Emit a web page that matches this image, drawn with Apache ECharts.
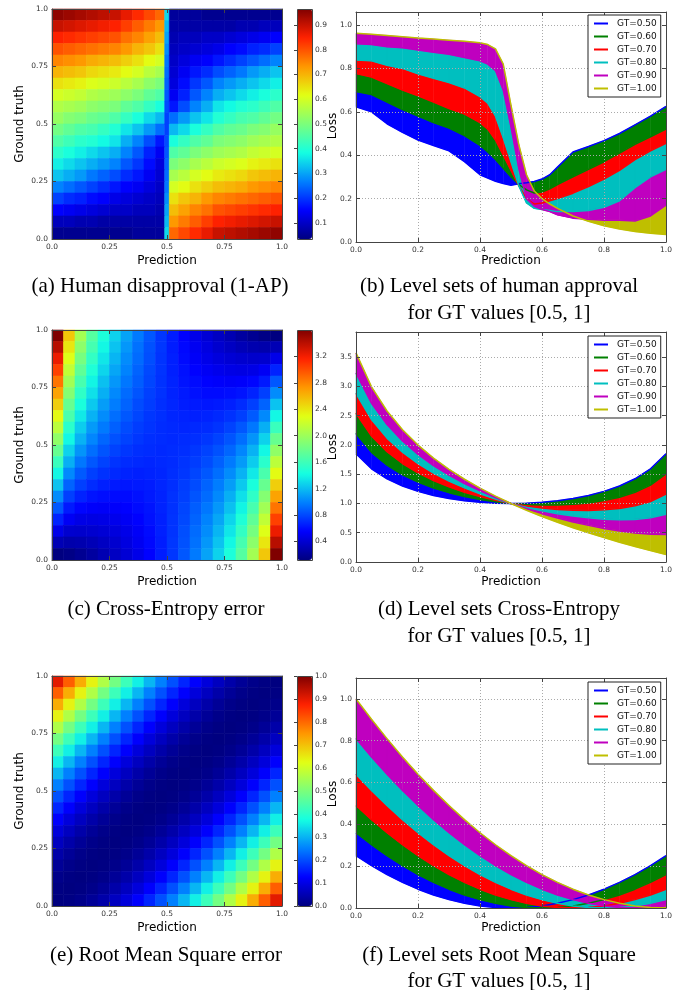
<!DOCTYPE html>
<html>
<head>
<meta charset="utf-8">
<script src="https://cdn.jsdelivr.net/npm/echarts@6.0.0/dist/echarts.min.js"></script>
<style>
html, body { margin: 0; padding: 0; background: #fff; }
#chart { width: 679px; height: 990px; }
</style>
</head>
<body>
<div id="chart"></div>
<script>
// heatmap cells: rows are listed from the top (GT near 1) down to the bottom (GT near 0)
var cellEdges = [0, 0.05, 0.1, 0.15, 0.2, 0.25, 0.3, 0.35, 0.4, 0.45, 0.5, 0.55, 0.6, 0.65, 0.7, 0.75, 0.8, 0.85, 0.9, 0.95, 1];
// the 1-AP map has a narrow column on the jump at prediction 0.5
var apColEdges = [0, 0.05, 0.1, 0.15, 0.2, 0.25, 0.3, 0.35, 0.4, 0.45, 0.49, 0.51, 0.55, 0.6, 0.65, 0.7, 0.75, 0.8, 0.85, 0.9, 0.95, 1];

var apRows = [
  [.95,.94,.93,.92,.91,.90,.87,.84,.81,.78,.35,.06,.06,.06,.05,.05,.05,.05,.05,.05,.05],
  [.90,.89,.88,.87,.86,.85,.82,.79,.76,.73,.32,.07,.07,.07,.07,.07,.07,.08,.08,.09,.09],
  [.85,.84,.83,.82,.81,.80,.77,.75,.72,.69,.30,.08,.09,.09,.10,.10,.11,.12,.13,.14,.15],
  [.80,.79,.78,.77,.76,.75,.73,.70,.68,.65,.28,.09,.10,.11,.12,.13,.15,.16,.18,.19,.21],
  [.75,.74,.73,.71,.70,.69,.67,.65,.62,.60,.26,.10,.12,.14,.15,.17,.19,.21,.23,.25,.27],
  [.70,.69,.68,.66,.65,.64,.62,.60,.57,.55,.25,.11,.14,.17,.19,.22,.24,.26,.29,.31,.33],
  [.65,.64,.63,.61,.60,.59,.57,.55,.52,.50,.24,.12,.16,.20,.23,.27,.29,.31,.33,.35,.37],
  [.60,.59,.58,.56,.55,.54,.52,.50,.47,.45,.23,.14,.18,.23,.27,.31,.33,.35,.37,.39,.41],
  [.56,.55,.54,.52,.51,.50,.47,.45,.42,.39,.22,.17,.22,.27,.31,.36,.38,.40,.41,.43,.45],
  [.53,.51,.50,.48,.47,.45,.42,.39,.35,.32,.21,.25,.29,.33,.36,.40,.42,.44,.45,.47,.49],
  [.49,.47,.45,.44,.42,.40,.36,.33,.29,.25,.21,.32,.35,.39,.42,.45,.47,.48,.50,.51,.53],
  [.45,.43,.41,.40,.38,.36,.31,.27,.22,.17,.22,.39,.42,.45,.47,.50,.51,.52,.54,.55,.56],
  [.41,.39,.37,.35,.33,.31,.27,.23,.18,.14,.23,.45,.47,.50,.52,.54,.55,.56,.58,.59,.60],
  [.37,.35,.33,.31,.29,.27,.23,.20,.16,.12,.24,.50,.52,.55,.57,.59,.60,.61,.63,.64,.65],
  [.33,.31,.29,.26,.24,.22,.19,.17,.14,.11,.25,.55,.57,.60,.62,.64,.65,.66,.68,.69,.70],
  [.27,.25,.23,.21,.19,.17,.15,.14,.12,.10,.26,.60,.62,.65,.67,.69,.70,.71,.73,.74,.75],
  [.21,.19,.18,.16,.15,.13,.12,.11,.10,.09,.28,.65,.68,.70,.73,.75,.76,.77,.78,.79,.80],
  [.15,.14,.13,.12,.11,.10,.10,.09,.09,.08,.30,.69,.72,.75,.77,.80,.81,.82,.83,.84,.85],
  [.09,.09,.08,.08,.07,.07,.07,.07,.07,.07,.32,.73,.76,.79,.82,.85,.86,.87,.88,.89,.90],
  [.05,.05,.05,.05,.05,.05,.05,.06,.06,.06,.35,.78,.81,.84,.87,.90,.91,.92,.93,.94,.95]
];

var ceRows = [
  [3.60,2.53,2.03,1.70,1.46,1.27,1.11,0.97,0.85,0.74,0.65,0.56,0.48,0.41,0.35,0.29,0.23,0.18,0.14,0.12],
  [3.41,2.40,1.93,1.63,1.40,1.22,1.07,0.94,0.83,0.74,0.65,0.58,0.51,0.45,0.39,0.35,0.31,0.28,0.27,0.30],
  [3.23,2.28,1.84,1.55,1.34,1.17,1.03,0.92,0.82,0.73,0.66,0.59,0.53,0.48,0.44,0.41,0.39,0.38,0.39,0.48],
  [3.05,2.15,1.74,1.47,1.28,1.12,1.00,0.89,0.80,0.73,0.66,0.61,0.56,0.52,0.49,0.47,0.46,0.47,0.52,0.67],
  [2.86,2.02,1.64,1.39,1.21,1.07,0.96,0.87,0.79,0.72,0.67,0.62,0.59,0.56,0.54,0.53,0.54,0.57,0.64,0.85],
  [2.68,1.90,1.54,1.32,1.15,1.02,0.92,0.84,0.77,0.72,0.67,0.64,0.61,0.59,0.59,0.60,0.62,0.67,0.77,1.03],
  [2.50,1.77,1.45,1.24,1.09,0.98,0.89,0.81,0.76,0.71,0.68,0.65,0.64,0.63,0.64,0.66,0.70,0.77,0.89,1.22],
  [2.31,1.65,1.35,1.16,1.03,0.93,0.85,0.79,0.74,0.71,0.68,0.67,0.66,0.67,0.69,0.72,0.77,0.86,1.02,1.40],
  [2.13,1.52,1.25,1.08,0.97,0.88,0.81,0.76,0.73,0.70,0.69,0.68,0.69,0.70,0.73,0.78,0.85,0.96,1.15,1.58],
  [1.95,1.40,1.16,1.01,0.90,0.83,0.78,0.74,0.71,0.70,0.69,0.70,0.71,0.74,0.78,0.84,0.93,1.06,1.27,1.77],
  [1.77,1.27,1.06,0.93,0.84,0.78,0.74,0.71,0.70,0.69,0.70,0.71,0.74,0.78,0.83,0.90,1.01,1.16,1.40,1.95],
  [1.58,1.15,0.96,0.85,0.78,0.73,0.70,0.69,0.68,0.69,0.70,0.73,0.76,0.81,0.88,0.97,1.08,1.25,1.52,2.13],
  [1.40,1.02,0.86,0.77,0.72,0.69,0.67,0.66,0.67,0.68,0.71,0.74,0.79,0.85,0.93,1.03,1.16,1.35,1.65,2.31],
  [1.22,0.89,0.77,0.70,0.66,0.64,0.63,0.64,0.65,0.68,0.71,0.76,0.81,0.89,0.98,1.09,1.24,1.45,1.77,2.50],
  [1.03,0.77,0.67,0.62,0.60,0.59,0.59,0.61,0.64,0.67,0.72,0.77,0.84,0.92,1.02,1.15,1.32,1.54,1.90,2.68],
  [0.85,0.64,0.57,0.54,0.53,0.54,0.56,0.59,0.62,0.67,0.72,0.79,0.87,0.96,1.07,1.21,1.39,1.64,2.02,2.86],
  [0.67,0.52,0.47,0.46,0.47,0.49,0.52,0.56,0.61,0.66,0.73,0.80,0.89,1.00,1.12,1.28,1.47,1.74,2.15,3.05],
  [0.48,0.39,0.38,0.39,0.41,0.44,0.48,0.53,0.59,0.66,0.73,0.82,0.92,1.03,1.17,1.34,1.55,1.84,2.28,3.23],
  [0.30,0.27,0.28,0.31,0.35,0.39,0.45,0.51,0.58,0.65,0.74,0.83,0.94,1.07,1.22,1.40,1.63,1.93,2.40,3.41],
  [0.12,0.14,0.18,0.23,0.29,0.35,0.41,0.48,0.56,0.65,0.74,0.85,0.97,1.11,1.27,1.46,1.70,2.03,2.53,3.60]
];

var mseRows = [
  [.903,.81,.723,.64,.563,.49,.423,.36,.303,.25,.203,.16,.123,.09,.063,.04,.023,.01,.003,0],
  [.81,.723,.64,.563,.49,.423,.36,.303,.25,.203,.16,.123,.09,.063,.04,.023,.01,.003,0,.003],
  [.723,.64,.563,.49,.423,.36,.303,.25,.203,.16,.123,.09,.063,.04,.023,.01,.003,0,.003,.01],
  [.64,.563,.49,.423,.36,.303,.25,.203,.16,.123,.09,.063,.04,.023,.01,.003,0,.003,.01,.023],
  [.563,.49,.423,.36,.303,.25,.203,.16,.123,.09,.063,.04,.023,.01,.003,0,.003,.01,.023,.04],
  [.49,.423,.36,.303,.25,.203,.16,.123,.09,.063,.04,.023,.01,.003,0,.003,.01,.023,.04,.063],
  [.423,.36,.303,.25,.203,.16,.123,.09,.063,.04,.023,.01,.003,0,.003,.01,.023,.04,.063,.09],
  [.36,.303,.25,.203,.16,.123,.09,.063,.04,.023,.01,.003,0,.003,.01,.023,.04,.063,.09,.123],
  [.303,.25,.203,.16,.123,.09,.063,.04,.023,.01,.003,0,.003,.01,.023,.04,.063,.09,.123,.16],
  [.25,.203,.16,.123,.09,.063,.04,.023,.01,.003,0,.003,.01,.023,.04,.063,.09,.123,.16,.203],
  [.203,.16,.123,.09,.063,.04,.023,.01,.003,0,.003,.01,.023,.04,.063,.09,.123,.16,.203,.25],
  [.16,.123,.09,.063,.04,.023,.01,.003,0,.003,.01,.023,.04,.063,.09,.123,.16,.203,.25,.303],
  [.123,.09,.063,.04,.023,.01,.003,0,.003,.01,.023,.04,.063,.09,.123,.16,.203,.25,.303,.36],
  [.09,.063,.04,.023,.01,.003,0,.003,.01,.023,.04,.063,.09,.123,.16,.203,.25,.303,.36,.423],
  [.063,.04,.023,.01,.003,0,.003,.01,.023,.04,.063,.09,.123,.16,.203,.25,.303,.36,.423,.49],
  [.04,.023,.01,.003,0,.003,.01,.023,.04,.063,.09,.123,.16,.203,.25,.303,.36,.423,.49,.563],
  [.023,.01,.003,0,.003,.01,.023,.04,.063,.09,.123,.16,.203,.25,.303,.36,.423,.49,.563,.64],
  [.01,.003,0,.003,.01,.023,.04,.063,.09,.123,.16,.203,.25,.303,.36,.423,.49,.563,.64,.723],
  [.003,0,.003,.01,.023,.04,.063,.09,.123,.16,.203,.25,.303,.36,.423,.49,.563,.64,.723,.81],
  [0,.003,.01,.023,.04,.063,.09,.123,.16,.203,.25,.303,.36,.423,.49,.563,.64,.723,.81,.903]
];

// colorbar tick labels
var apBarTicks = [0.1, 0.2, 0.3, 0.4, 0.5, 0.6, 0.7, 0.8, 0.9];
var ceBarTicks = [0.4, 0.8, 1.2, 1.6, 2.0, 2.4, 2.8, 3.2];
var mseBarTicks = [0, 0.1, 0.2, 0.3, 0.4, 0.5, 0.6, 0.7, 0.8, 0.9, 1.0];

var gtNames = ['GT=0.50', 'GT=0.60', 'GT=0.70', 'GT=0.80', 'GT=0.90', 'GT=1.00'];

// (b) level sets of human approval
var apX = [0, 0.05, 0.1, 0.15, 0.2, 0.25, 0.3, 0.35, 0.4, 0.425, 0.45, 0.475, 0.5, 0.525, 0.55, 0.575, 0.6, 0.625, 0.65, 0.7, 0.75, 0.8, 0.85, 0.9, 0.95, 1];
var apGT50 = [.623,.60,.545,.505,.47,.445,.42,.37,.31,.295,.28,.27,.262,.268,.273,.279,.29,.31,.345,.415,.44,.467,.50,.54,.58,.625];
var apGT60 = [.694,.68,.645,.61,.58,.55,.525,.49,.445,.415,.38,.34,.30,.265,.24,.226,.23,.245,.265,.30,.335,.37,.41,.45,.485,.52];
var apGT70 = [.776,.76,.73,.70,.674,.645,.615,.59,.55,.52,.47,.40,.33,.26,.20,.175,.18,.19,.20,.225,.255,.29,.33,.38,.42,.455];
var apGT80 = [.839,.835,.815,.80,.775,.755,.735,.71,.67,.64,.58,.48,.37,.26,.18,.155,.15,.145,.14,.14,.145,.16,.19,.25,.30,.335];
var apGT90 = [.914,.91,.90,.895,.885,.875,.865,.85,.835,.82,.79,.70,.53,.34,.20,.165,.15,.14,.125,.11,.105,.10,.10,.097,.12,.17];
var apGT100 = [.962,.957,.952,.946,.94,.935,.93,.925,.918,.91,.89,.82,.63,.45,.31,.235,.20,.175,.155,.12,.095,.075,.06,.048,.04,.035];

// (d) level sets of cross-entropy
var ceX = [0, 0.05, 0.1, 0.15, 0.2, 0.25, 0.3, 0.35, 0.4, 0.45, 0.5, 0.55, 0.6, 0.65, 0.7, 0.75, 0.8, 0.85, 0.9, 0.95, 1];
var ceGT50 = [1.850,1.593,1.422,1.299,1.207,1.137,1.085,1.046,1.020,1.005,1.0,1.005,1.020,1.046,1.085,1.137,1.207,1.299,1.422,1.593,1.850];
var ceGT60 = [2.194,1.873,1.654,1.491,1.365,1.265,1.185,1.120,1.069,1.029,1.0,0.981,0.972,0.973,0.985,1.009,1.049,1.107,1.190,1.314,1.505];
var ceGT70 = [2.539,2.153,1.885,1.683,1.523,1.393,1.284,1.193,1.118,1.053,1.0,0.957,0.923,0.899,0.885,0.881,0.891,0.915,0.959,1.034,1.161];
var ceGT80 = [2.883,2.433,2.117,1.876,1.681,1.521,1.384,1.267,1.166,1.077,1.0,0.933,0.875,0.826,0.785,0.754,0.732,0.722,0.727,0.754,0.816];
var ceGT90 = [3.228,2.713,2.348,2.068,1.840,1.648,1.484,1.340,1.215,1.101,1.0,0.909,0.826,0.752,0.685,0.626,0.574,0.530,0.496,0.474,0.472];
var ceGT100 = [3.573,2.993,2.580,2.260,1.998,1.776,1.584,1.414,1.263,1.125,1.0,0.885,0.778,0.679,0.586,0.498,0.416,0.338,0.264,0.194,0.127];

// (f) level sets of the squared error
var mseX = [0, 0.05, 0.1, 0.15, 0.2, 0.25, 0.3, 0.35, 0.4, 0.45, 0.5, 0.55, 0.6, 0.65, 0.7, 0.75, 0.8, 0.85, 0.9, 0.95, 1];
var mseGT50 = [.25,.2025,.16,.1225,.09,.0625,.04,.0225,.01,.0025,0,.0025,.01,.0225,.04,.0625,.09,.1225,.16,.2025,.25];
var mseGT60 = [.36,.3025,.25,.2025,.16,.1225,.09,.0625,.04,.0225,.01,.0025,0,.0025,.01,.0225,.04,.0625,.09,.1225,.16];
var mseGT70 = [.49,.4225,.36,.3025,.25,.2025,.16,.1225,.09,.0625,.04,.0225,.01,.0025,0,.0025,.01,.0225,.04,.0625,.09];
var mseGT80 = [.64,.5625,.49,.4225,.36,.3025,.25,.2025,.16,.1225,.09,.0625,.04,.0225,.01,.0025,0,.0025,.01,.0225,.04];
var mseGT90 = [.81,.7225,.64,.5625,.49,.4225,.36,.3025,.25,.2025,.16,.1225,.09,.0625,.04,.0225,.01,.0025,0,.0025,.01];
var mseGT100 = [1,.9025,.81,.7225,.64,.5625,.49,.4225,.36,.3025,.25,.2025,.16,.1225,.09,.0625,.04,.0225,.01,.0025,0];

var FONT = 'DejaVu Sans';
var SERIF = 'Liberation Serif';
var jet = ['#000080', '#0000ff', '#0080ff', '#14ffe2', '#7bff7b', '#e2ff14', '#ff9700', '#ff2100', '#800000'];
var lineColors = ['#0000ff', '#008000', '#ff0000', '#00bfbf', '#bf00bf', '#bfbf00'];

var option = {
    animation: false,
    backgroundColor: '#fff',
    textStyle: { fontFamily: FONT },
    grid: [], xAxis: [], yAxis: [], series: [], visualMap: [], legend: [],
    graphic: { elements: [] }
};

function heatFmt(v) { return (v === 0 || v === 1) ? v.toFixed(1) : String(v); }
function oneDec(v) { return v.toFixed(1); }

function axis(gi, pos, r, labels, dotted) {
    return {
        type: 'value', gridIndex: gi, position: pos,
        min: r.min, max: r.max, interval: r.interval, z: 10,
        axisLine: { show: true, onZero: false, lineStyle: { color: '#444', width: 1 } },
        axisTick: { show: true, inside: true, length: 4, lineStyle: { color: '#444', width: 1 } },
        axisLabel: {
            show: labels, fontSize: 7.5, color: '#333', margin: 4, fontFamily: FONT,
            formatter: r.fmt, showMaxLabel: r.hideMax ? false : null
        },
        splitLine: { show: !!dotted, lineStyle: { color: '#aaa', width: 1, type: [1, 2] } }
    };
}

// a grid with a box of four axes, labels on bottom and left only
function addFrame(box, xr, yr, dotted) {
    var gi = option.grid.length;
    option.grid.push(box);
    var xi = option.xAxis.length, yi = option.yAxis.length;
    option.xAxis.push(axis(gi, 'bottom', xr, true, dotted), axis(gi, 'top', xr, false, false));
    option.yAxis.push(axis(gi, 'left', yr, true, dotted), axis(gi, 'right', yr, false, false));
    return { x: xi, y: yi };
}

function cellData(rows) {
    var data = [];
    rows.forEach(function (row, r) {
        row.forEach(function (v, c) { data.push([c, rows.length - 1 - r, v]); });
    });
    return data;
}

function cellRenderer(colEdges) {
    return function (params, api) {
        var c = api.value(0), j = api.value(1);
        var p1 = api.coord([colEdges[c], cellEdges[j + 1]]);
        var p2 = api.coord([colEdges[c + 1], cellEdges[j]]);
        var color = api.visual('color');
        return {
            type: 'rect',
            shape: { x: p1[0], y: p1[1], width: p2[0] - p1[0], height: p2[1] - p1[1] },
            style: { fill: color, stroke: color, lineWidth: 0.6 }
        };
    };
}

// fill between two neighbouring level curves, coloured by whichever curve is lower
function bandSeries(ax, xs, ca, cb, colA, colB) {
    return {
        type: 'custom', xAxisIndex: ax.x, yAxisIndex: ax.y, silent: true, z: 2,
        encode: { x: 0 },
        data: xs.slice(1).map(function (x, i) { return [i]; }),
        renderItem: function (params, api) {
            var i = api.value(0);
            var x0 = xs[i], x1 = xs[i + 1];
            var a0 = ca[i], a1 = ca[i + 1], b0 = cb[i], b1 = cb[i + 1];
            var d0 = a0 - b0, d1 = a1 - b1;
            var pieces = [];
            if (d0 * d1 < 0) {
                var t = d0 / (d0 - d1);
                var xc = x0 + t * (x1 - x0), yc = a0 + t * (a1 - a0);
                pieces.push([[[x0, a0], [xc, yc], [x0, b0]], d0 < 0 ? colA : colB]);
                pieces.push([[[xc, yc], [x1, a1], [x1, b1]], d1 < 0 ? colA : colB]);
            } else {
                pieces.push([[[x0, a0], [x1, a1], [x1, b1], [x0, b0]], (d0 + d1) < 0 ? colA : colB]);
            }
            return {
                type: 'group',
                children: pieces.map(function (p) {
                    return {
                        type: 'polygon',
                        shape: { points: p[0].map(function (pt) { return api.coord(pt); }) },
                        style: { fill: p[1], stroke: p[1], lineWidth: 0.5 }
                    };
                })
            };
        }
    };
}

function addText(x, y, s, size, family, rotate) {
    option.graphic.elements.push({
        type: 'text', x: x, y: y, rotation: rotate ? Math.PI / 2 : 0, z: 100,
        style: { text: s, fontSize: size, fontFamily: family, fill: '#000', align: 'center', verticalAlign: 'middle' }
    });
}

var heatPanels = [
    { top: 9, rows: apRows, cols: apColEdges, min: 0.035, max: 0.965, ticks: apBarTicks },
    { top: 330, rows: ceRows, cols: cellEdges, min: 0.12, max: 3.6, ticks: ceBarTicks },
    { top: 676, rows: mseRows, cols: cellEdges, min: 0, max: 1, ticks: mseBarTicks }
];

heatPanels.forEach(function (p) {
    var r = { min: 0, max: 1, interval: 0.25, fmt: heatFmt };
    var ax = addFrame({ left: 52, top: p.top, width: 230, height: 230 }, r, r, false);
    var si = option.series.length;
    option.series.push({
        type: 'custom', xAxisIndex: ax.x, yAxisIndex: ax.y, silent: true, z: 1,
        encode: { x: 0, y: 1 },
        data: cellData(p.rows), renderItem: cellRenderer(p.cols)
    });

    // colorbar
    var cg = option.grid.length;
    option.grid.push({ left: 297, top: p.top, width: 15, height: 230 });
    option.xAxis.push({ type: 'value', gridIndex: cg, show: false, min: 0, max: 1 });
    option.yAxis.push({
        type: 'value', gridIndex: cg, position: 'right', min: p.min, max: p.max, z: 10,
        axisLine: { show: false },
        axisTick: { show: true, inside: true, length: 3, lineStyle: { color: '#444' }, customValues: p.ticks },
        axisLabel: { fontSize: 7.5, color: '#333', margin: 3, fontFamily: FONT, formatter: oneDec, customValues: p.ticks },
        splitLine: { show: false }
    });
    option.visualMap.push({
        type: 'continuous', seriesIndex: si, dimension: 2, min: p.min, max: p.max,
        inRange: { color: jet }, left: 297, top: p.top, itemWidth: 15, itemHeight: 230,
        calculable: false, hoverLink: false, realtime: false, padding: 0, text: null, z: 5
    });
    option.graphic.elements.push({
        type: 'rect', z: 90,
        shape: { x: 297.5, y: p.top + 0.5, width: 15, height: 230 },
        style: { fill: 'none', stroke: '#444', lineWidth: 1 }
    });
    addText(20, p.top + 115, 'Ground truth', 12, FONT, true);
});

var rightPanels = [
    { top: 12, xs: apX, curves: [apGT50, apGT60, apGT70, apGT80, apGT90, apGT100], ymax: 1.06, step: 0.2, legendTop: 15 },
    { top: 332, xs: ceX, curves: [ceGT50, ceGT60, ceGT70, ceGT80, ceGT90, ceGT100], ymax: 3.93, step: 0.5, legendTop: 336 },
    { top: 678, xs: mseX, curves: [mseGT50, mseGT60, mseGT70, mseGT80, mseGT90, mseGT100], ymax: 1.1, step: 0.2, legendTop: 682 }
];

rightPanels.forEach(function (p) {
    var ax = addFrame({ left: 356, top: p.top, width: 310, height: 230 },
        { min: 0, max: 1, interval: 0.2, fmt: oneDec },
        { min: 0, max: p.ymax, interval: p.step, fmt: oneDec, hideMax: true }, true);
    for (var k = 0; k < 5; k++) {
        option.series.push(bandSeries(ax, p.xs, p.curves[k], p.curves[k + 1], lineColors[k], lineColors[k + 1]));
    }
    p.curves.forEach(function (c, k) {
        option.series.push({
            type: 'line', name: gtNames[k], xAxisIndex: ax.x, yAxisIndex: ax.y,
            data: p.xs.map(function (x, i) { return [x, c[i]]; }),
            symbol: 'none', showSymbol: false, silent: true, z: 3,
            lineStyle: { color: lineColors[k], width: 1.5 },
            itemStyle: { color: lineColors[k] }
        });
    });
    option.legend.push({
        data: gtNames, orient: 'vertical', left: 588, top: p.legendTop,
        icon: 'rect', itemWidth: 14, itemHeight: 2, itemGap: 2, selectedMode: false,
        padding: [3, 4, 3, 6], borderColor: '#222', borderWidth: 1, backgroundColor: '#fff', z: 20,
        textStyle: { fontSize: 9, color: '#111', fontFamily: FONT, lineHeight: 11, padding: [0, 0, 0, 4] }
    });
});

// axis names, colorbar label and captions
[261, 582, 928].forEach(function (y) {
    addText(167, y, 'Prediction', 12, FONT, false);
    addText(511, y, 'Prediction', 12, FONT, false);
});
[126, 447, 794].forEach(function (y) { addText(333, y, 'Loss', 12, FONT, true); });

addText(160, 286, '(a) Human disapproval (1-AP)', 21, SERIF, false);
addText(499, 286, '(b) Level sets of human approval', 21, SERIF, false);
addText(499, 313, 'for GT values [0.5, 1]', 21, SERIF, false);
addText(166, 609, '(c) Cross-Entropy error', 21, SERIF, false);
addText(499, 609, '(d) Level sets Cross-Entropy', 21, SERIF, false);
addText(499, 636, 'for GT values [0.5, 1]', 21, SERIF, false);
addText(166, 955, '(e) Root Mean Square error', 21, SERIF, false);
addText(499, 955, '(f) Level sets Root Mean Square', 21, SERIF, false);
addText(499, 981, 'for GT values [0.5, 1]', 21, SERIF, false);

var chart = echarts.init(document.getElementById('chart'));
chart.setOption(option);
</script>
</body>
</html>
